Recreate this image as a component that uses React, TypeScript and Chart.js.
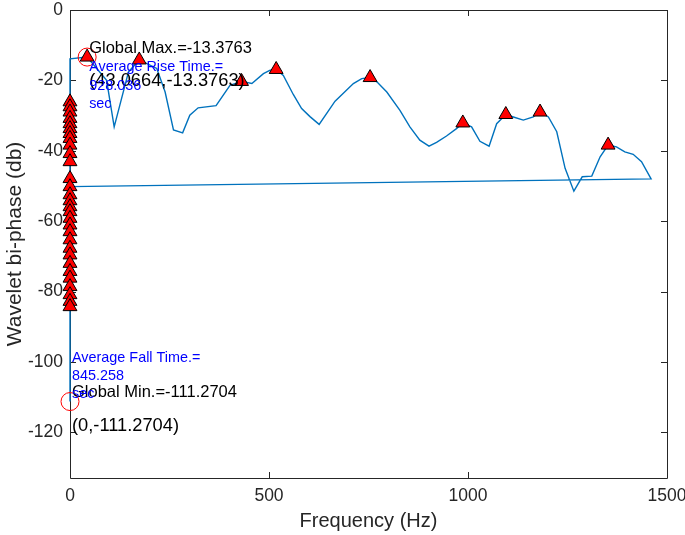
import React, { useEffect, useRef } from "react";
import { Chart, registerables } from "chart.js";

Chart.register(...registerables);

// Main trace (frequency in Hz, wavelet bi-phase in dB), in plotting order
const curveFreq = [0, 0, 43.0664, 92, 111, 147, 174, 218, 239, 260, 283, 301, 322, 367, 402, 431, 457, 486, 503, 518, 536, 561, 582, 603, 626, 666, 712, 733, 754, 771, 796, 829, 854, 879, 902, 921, 946, 971, 987, 1009, 1030, 1053, 1072, 1095, 1114, 1139, 1164, 1181, 1202, 1223, 1244, 1266, 1287, 1311, 1332, 1352, 1373, 1394, 1415, 1436, 1460, 0];
const curveDb = [-111.2704, -13.9, -13.3763, -20, -33.2, -17.6, -14.2, -16.6, -23.3, -34.1, -34.9, -29.9, -27.8, -27.2, -21.4, -20.3, -20.9, -18.1, -17.1, -16.9, -18.6, -24, -28, -30.3, -32.5, -25.9, -20.9, -19.5, -19.2, -20.4, -23.3, -28.5, -33.2, -37, -38.7, -37.6, -35.8, -33.7, -32.1, -33.2, -37.3, -38.7, -32.3, -29.7, -30.4, -31.3, -30.4, -29.0, -30.4, -34.6, -45, -51.5, -47.4, -47.2, -41.7, -38.4, -38.9, -40.3, -41, -43.1, -48, -50.2];

// Peaks found at 0 Hz
const clusterDb = [-26.1, -27.5, -29, -30.8, -32.3, -33.7, -35.1, -36.5, -38.4, -40.8, -43.1, -47.9, -50.2, -52.5, -54.2, -55.9, -57.3, -59.2, -61.1, -63, -65.3, -67.7, -69.6, -72, -74.3, -76.2, -78.6, -80.9, -82.8, -84.3];

// Peaks along the trace
const peakFreq = [43.0664, 174, 431, 518, 754, 987, 1095, 1181, 1352];
const peakDb = [-13.3763, -14.2, -20.3, -16.9, -19.2, -32.1, -29.7, -29.0, -38.4];

// Global extrema
const extremaFreq = [43.0664, 0];
const extremaDb = [-13.3763, -111.2704];

const maxLabel = "Global Max.=-13.3763";
const maxCoord = "(43.0664,-13.3763)";
const riseLines = ["Average Rise Time.=", "928.036", "sec"];
const minLabel = "Global Min.=-111.2704";
const minCoord = "(0,-111.2704)";
const fallLines = ["Average Fall Time.=", "845.258", "sec"];

const xTicks = [0, 500, 1000, 1500];
const yTicks = [0, -20, -40, -60, -80, -100, -120];

const FONT = '"Liberation Sans", Arial, Helvetica, sans-serif';
const AXIS = "#262626";

const framePlugin = {
  id: "frame",
  beforeDatasetsDraw(chart: any) {
    const { ctx, chartArea: a, scales } = chart;
    const xs = scales.x;
    const ys = scales.y;
    const L = 6;
    ctx.save();
    ctx.strokeStyle = AXIS;
    ctx.lineWidth = 1;
    ctx.beginPath();
    ctx.rect(Math.round(a.left) + 0.5, Math.round(a.top) + 0.5, Math.round(a.right - a.left), Math.round(a.bottom - a.top));
    for (const t of xTicks) {
      const px = Math.round(xs.getPixelForValue(t)) + 0.5;
      ctx.moveTo(px, a.bottom);
      ctx.lineTo(px, a.bottom - L);
      ctx.moveTo(px, a.top);
      ctx.lineTo(px, a.top + L);
    }
    for (const t of yTicks) {
      const py = Math.round(ys.getPixelForValue(t)) + 0.5;
      ctx.moveTo(a.left, py);
      ctx.lineTo(a.left + L, py);
      ctx.moveTo(a.right, py);
      ctx.lineTo(a.right - L, py);
    }
    ctx.stroke();
    ctx.restore();
  },
};

const annotationPlugin = {
  id: "annot",
  afterDatasetsDraw(chart: any) {
    const { ctx, scales } = chart;
    const xs = scales.x;
    const ys = scales.y;
    const mx = xs.getPixelForValue(extremaFreq[0]);
    const my = ys.getPixelForValue(extremaDb[0]);
    const nx = xs.getPixelForValue(extremaFreq[1]);
    const ny = ys.getPixelForValue(extremaDb[1]);
    ctx.save();
    ctx.textAlign = "left";
    ctx.textBaseline = "alphabetic";
    ctx.fillStyle = "#000000";
    ctx.font = `16.5px ${FONT}`;
    ctx.fillText(maxLabel, mx + 2, my - 4);
    ctx.fillText(minLabel, nx + 2, ny - 4.5);
    ctx.font = `18.3px ${FONT}`;
    ctx.fillText(maxCoord, mx + 2, my + 28.5);
    ctx.fillText(minCoord, nx + 2, ny + 29);
    ctx.fillStyle = "#0000ff";
    ctx.font = `14.4px ${FONT}`;
    riseLines.forEach((s, i) => ctx.fillText(s, mx + 2, my + 14 + i * 18.5));
    fallLines.forEach((s, i) => ctx.fillText(s, nx + 2, ny - 39.5 + i * 18.2));
    ctx.restore();
  },
};

export default function App() {
  const ref = useRef<HTMLCanvasElement>(null);
  useEffect(() => {
    const canvas = ref.current;
    if (!canvas) return;
    const lineData = curveFreq.map((f, i) => ({ x: f, y: curveDb[i] }));
    const markerData = [
      ...clusterDb.map((v) => ({ x: 0, y: v })),
      ...peakFreq.map((f, i) => ({ x: f, y: peakDb[i] })),
    ];
    const extremaData = extremaFreq.map((f, i) => ({ x: f, y: extremaDb[i] }));
    const chart = new Chart(canvas, {
      type: "scatter",
      data: {
        datasets: [
          {
            data: extremaData,
            pointStyle: "circle",
            pointRadius: 9,
            backgroundColor: "rgba(0,0,0,0)",
            borderColor: "#ff0000",
            borderWidth: 1,
            clip: false,
          } as any,
          {
            data: markerData,
            pointStyle: "triangle",
            pointRadius: 8,
            backgroundColor: "#ff0000",
            borderColor: "#000000",
            borderWidth: 1,
            clip: false,
          } as any,
          {
            data: lineData,
            showLine: true,
            borderColor: "#0072BD",
            borderWidth: 1.4,
            pointRadius: 0,
            tension: 0,
            clip: false,
          } as any,
        ],
      },
      options: {
        responsive: false,
        animation: false,
        events: [],
        layout: { padding: { left: 0, right: 18, top: 8, bottom: 0 } },
        plugins: { legend: { display: false }, tooltip: { enabled: false } },
        scales: {
          x: {
            type: "linear",
            min: 0,
            max: 1500,
            grid: { display: false, drawTicks: false },
            border: { display: false },
            afterFit: (s: any) => {
              s.height = 57;
              s.paddingLeft = 0;
              s.paddingRight = 0;
            },
            afterBuildTicks: (s: any) => { s.ticks = xTicks.map((v) => ({ value: v })); },
            ticks: {
              color: AXIS,
              font: { family: FONT, size: 17.5 },
              padding: 8,
              maxRotation: 0,
              callback: (v: any) => String(v),
            },
            title: {
              display: true,
              text: "Frequency (Hz)",
              color: AXIS,
              font: { family: FONT, size: 20 },
              padding: { top: 0, bottom: 2 },
            },
          },
          y: {
            type: "linear",
            min: -133,
            max: 0,
            grid: { display: false, drawTicks: false },
            border: { display: false },
            afterFit: (s: any) => {
              s.width = 70;
              s.paddingTop = 0;
              s.paddingBottom = 0;
            },
            afterBuildTicks: (s: any) => { s.ticks = yTicks.slice().reverse().map((v) => ({ value: v })); },
            ticks: {
              color: AXIS,
              font: { family: FONT, size: 17.5 },
              padding: 7,
              callback: (v: any) => String(v),
            },
            title: {
              display: true,
              text: "Wavelet bi-phase (db)",
              color: AXIS,
              font: { family: FONT, size: 21 },
              padding: { top: 2.4, bottom: 0 },
            },
          },
        },
      },
      plugins: [framePlugin, annotationPlugin],
    } as any);
    return () => chart.destroy();
  }, []);
  return (
    <div style={{ position: "absolute", left: 0, top: 0, width: 685, height: 535, background: "#ffffff" }}>
      <canvas ref={ref} width={685} height={535} style={{ width: 685, height: 535, display: "block" }} />
    </div>
  );
}
